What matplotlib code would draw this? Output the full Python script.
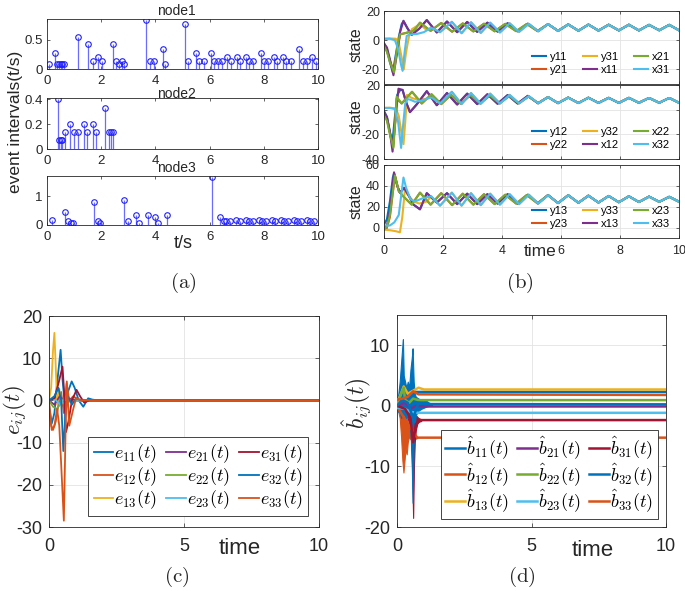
import matplotlib
matplotlib.use('Agg')
import matplotlib.pyplot as plt
import numpy as np

plt.rcParams['font.family'] = ['Liberation Sans', 'DejaVu Sans']
plt.rcParams['mathtext.fontset'] = 'cm'
plt.rcParams['axes.unicode_minus'] = False

# ---------------- data: panel (a) event intervals ----------------
node1_t = [0.06, 0.31, 0.37, 0.43, 0.50, 0.56, 0.62, 1.14, 1.53, 1.68, 1.88, 2.03, 2.43, 2.56, 2.64, 2.76, 2.85,
           3.64, 3.80, 3.94, 4.27, 4.34, 5.10, 5.22, 5.50, 5.61, 5.78, 6.04, 6.16, 6.31, 6.46, 6.66, 6.78, 7.00,
           7.12, 7.34, 7.46, 7.61, 7.88, 8.01, 8.14, 8.36, 8.49, 8.70, 8.82, 8.99, 9.31, 9.44, 9.59, 9.79, 9.91]
node1_v = [0.08, 0.28, 0.08, 0.08, 0.08, 0.08, 0.08, 0.55, 0.42, 0.14, 0.21, 0.14, 0.42, 0.14, 0.08, 0.14, 0.08,
           0.83, 0.14, 0.14, 0.34, 0.08, 0.76, 0.14, 0.28, 0.14, 0.14, 0.28, 0.14, 0.14, 0.14, 0.21, 0.14, 0.21,
           0.14, 0.21, 0.14, 0.14, 0.28, 0.14, 0.14, 0.21, 0.14, 0.21, 0.14, 0.14, 0.34, 0.14, 0.14, 0.21, 0.14]
node2_t = [0.40, 0.45, 0.50, 0.54, 0.67, 0.85, 1.01, 1.15, 1.35, 1.49, 1.68, 1.82, 2.15, 2.28, 2.36, 2.45]
node2_v = [0.40, 0.07, 0.07, 0.07, 0.14, 0.205, 0.14, 0.14, 0.205, 0.14, 0.205, 0.14, 0.33, 0.14, 0.14, 0.14]
node3_t = [0.19, 0.66, 0.78, 0.87, 0.95, 1.75, 1.88, 1.96, 2.85, 2.98, 3.30, 3.39, 3.73, 4.00, 4.08, 4.42,
           6.10, 6.37, 6.52, 6.62, 6.74, 6.99, 7.11, 7.33, 7.46, 7.59, 7.81, 7.95, 8.07, 8.29, 8.42, 8.64,
           8.76, 8.89, 9.11, 9.23, 9.37, 9.58, 9.70, 9.85]
node3_v = [0.19, 0.45, 0.14, 0.08, 0.08, 0.81, 0.14, 0.08, 0.86, 0.14, 0.34, 0.08, 0.34, 0.28, 0.08, 0.34,
           1.68, 0.27, 0.14, 0.14, 0.14, 0.19, 0.14, 0.19, 0.14, 0.14, 0.19, 0.14, 0.14, 0.19, 0.14, 0.19,
           0.14, 0.14, 0.19, 0.14, 0.14, 0.19, 0.14, 0.14]
node_names = ['node1', 'node2', 'node3']

# ---------------- data: panel (b) states (extremum points) ----------------
tail_t = [5.90, 6.245, 6.59, 6.93, 7.27, 7.615, 7.96, 8.30, 8.64, 8.985, 9.33, 9.67, 10.0]
tail1 = [6.4, 10.8, 6.5, 10.7, 6.6, 10.6, 6.7, 10.6, 6.7, 10.5, 6.8, 10.5, 6.8]
tail2 = [5.3, 9.8, 5.4, 9.7, 5.5, 9.6, 5.5, 9.6, 5.6, 9.5, 5.6, 9.5, 5.6]
tail3 = [23.5, 31.0, 23.8, 30.6, 24.0, 30.3, 24.3, 30.0, 24.5, 29.7, 24.7, 29.5, 24.8]

x11_t = [0, 0.10, 0.20, 0.32, 0.45, 0.55, 0.66, 0.80, 0.94, 1.20, 1.45, 1.79, 2.135, 2.48, 2.82, 3.16, 3.505, 3.85, 4.19, 4.53, 4.875, 5.22, 5.56]
x11_v = [-2.3, -5, -13, -24, -8, 6, 13.3, 8, 3.7, 8, 13.8, 5.3, 12.8, 5.5, 12.5, 5.7, 12.0, 5.9, 11.6, 6.1, 11.3, 6.2, 11.0]
x21_t = [0, 0.10, 0.20, 0.34, 0.45, 0.54, 0.75, 1.00, 1.22, 1.58, 1.94, 2.31, 2.67, 3.03, 3.39, 3.75, 4.11, 4.48, 4.84, 5.20, 5.56]
x21_v = [-4, -8, -15, -22, -5, 4, 5, 6.4, 12, 6.4, 11.8, 5.8, 11.5, 6.0, 11.3, 6.1, 11.2, 6.2, 11.1, 6.3, 11.0]
x31_t = [0, 0.20, 0.37, 0.48, 0.58, 0.63, 0.70, 0.77, 0.90, 1.10, 1.35, 1.60, 1.90, 2.30, 2.63, 2.95, 3.28, 3.60, 3.93, 4.26, 4.58, 4.91, 5.23, 5.56]
x31_v = [1, 1, 0, -6, -17, -21, -8, 3, 4, 4.2, 5.5, 8.5, 5.5, 12.6, 4.8, 12.3, 5.0, 12.0, 5.3, 11.6, 5.7, 11.2, 6.1, 11.0]
y11_t = [0, 0.10, 0.20, 0.30, 0.40, 0.50, 0.60, 0.66]
y11_v = [-2, -6, -15, -22, -10, 2, 11, 13]
y21_t = [0, 0.10, 0.20, 0.33, 0.45, 0.55]
y21_v = [-3.5, -7.5, -14, -21, -6, 4]
y31_t = [0, 0.20, 0.40, 0.50, 0.60, 0.67, 0.75, 0.85, 0.95, 1.10, 1.20, 1.45, 1.60]
y31_v = [1, 1.2, 1, -2, -12, -20, -8, 3, 7.6, 9.5, 11, 7, 8.5]

x12_t = [0, 0.10, 0.20, 0.29, 0.38, 0.49, 0.63, 0.75, 0.88, 1.10, 1.45, 1.79, 2.135, 2.48, 2.82, 3.16, 3.505, 3.85, 4.19, 4.53, 4.875, 5.22, 5.56]
x12_v = [-2, -6, -18, -34, -10, 17, 16, 6, -2, 4, 15, 3.6, 13.5, 4.2, 13, 4.5, 12.5, 4.8, 11.8, 5, 11.2, 5.2, 10.2]
x22_t = [0, 0.10, 0.20, 0.32, 0.38, 0.43, 0.60, 0.95, 1.28, 1.61, 1.94, 2.27, 2.60, 2.93, 3.26, 3.59, 3.92, 4.24, 4.57, 4.90, 5.23, 5.56]
x22_v = [-4.7, -9, -20, -31, -10, 10.5, 5, 14.5, 5, 12.5, 4.5, 12, 4.8, 11.8, 5.0, 11.5, 5.1, 11, 5.2, 10.6, 5.3, 10.2]
x32_t = [0, 0.20, 0.37, 0.48, 0.58, 0.65, 0.72, 0.80, 0.90, 1.05, 1.30, 1.60, 1.90, 2.30, 2.63, 2.95, 3.28, 3.60, 3.93, 4.26, 4.58, 4.91, 5.23, 5.56]
x32_v = [1.4, 1.4, 0.5, -10, -31, -12, 5, 8.6, 8, 6.4, 7.5, 10, 5, 14.5, 4.5, 13.5, 4.8, 13, 5, 12, 5.1, 11, 5.2, 10.2]
y12_t = [0, 0.10, 0.20, 0.28, 0.36, 0.45, 0.55]
y12_v = [-1, -6, -18, -28, -8, 12, 16]
y22_t = [0, 0.10, 0.20, 0.31, 0.38, 0.43]
y22_v = [-4, -8, -19, -30, -9, 9]
y32_t = [0, 0.20, 0.40, 0.50, 0.60, 0.66, 0.72, 0.78, 0.90, 1.00, 1.20, 1.45, 1.60]
y32_v = [1.4, 1.6, 1, -5, -20, -28, -10, 12, 10, 9, 8, 9, 10]

x13_t = [0, 0.10, 0.20, 0.34, 0.45, 0.54, 0.68, 0.85, 1.00, 1.22, 1.45, 1.79, 2.135, 2.48, 2.82, 3.16, 3.505, 3.85, 4.19, 4.53, 4.875, 5.22, 5.56]
x13_v = [0, 2, 15, 53, 40, 33.5, 38, 30, 22, 17.5, 33, 24, 33, 22.5, 32.5, 22.5, 32, 23, 32, 23, 31.5, 23.2, 31.2]
x23_t = [0, 0.10, 0.20, 0.37, 0.50, 0.65, 0.94, 1.22, 1.58, 1.94, 2.31, 2.67, 3.03, 3.39, 3.75, 4.11, 4.48, 4.84, 5.20, 5.56]
x23_v = [-2, 1, 12, 50, 35, 30, 22, 33.5, 22, 33, 21.5, 32.5, 22, 32, 22.5, 31.5, 23, 31.2, 23.3, 31]
x33_t = [0, 0.20, 0.35, 0.50, 0.58, 0.66, 0.75, 0.90, 1.05, 1.30, 1.60, 1.90, 2.30, 2.63, 2.95, 3.28, 3.60, 3.93, 4.26, 4.58, 4.91, 5.23, 5.56]
x33_v = [2, 2, 5, 12, 30, 48, 38, 27, 25, 28, 30, 21, 33.5, 21, 33, 21.5, 32.5, 22, 32, 22.5, 31.5, 23, 31]
y13_t = [0, 0.10, 0.20, 0.30, 0.34]
y13_v = [3, 8, 25, 48, 52]
y23_t = [0, 0.10, 0.20, 0.36]
y23_v = [-2, 0, 10, 48]
y33_t = [0, 0.20, 0.40, 0.54, 0.62, 0.71, 0.80, 1.00, 1.20, 1.45, 1.60]
y33_v = [-2, -2.5, -3.5, -4.5, 10, 36.8, 32, 25, 23, 25, 30]

# ---------------- data: panel (c) errors ----------------
e11_t = [0, 0.10, 0.20, 0.30, 0.43, 0.50, 0.60, 0.70, 0.84, 0.95, 1.10, 1.27, 1.45, 1.60, 1.80, 10]
e11_v = [-1, -5.5, -3, 4, 12, 5, -2, 2, 4.5, 3, 0, -1.5, 0.5, 0.2, 0, 0]
e12_t = [0, 0.08, 0.15, 0.25, 0.35, 0.45, 0.55, 0.65, 0.75, 0.90, 1.10, 10]
e12_v = [-2, -6, -7, -5, -1, 2, -3, 4, 0, 1, 0, 0]
e13_t = [0, 0.08, 0.15, 0.20, 0.25, 0.30, 0.38, 0.45, 0.55, 0.70, 1.00, 1.30, 10]
e13_v = [0, 3, 12, 16, 8, -1, 2.7, -1, 0.5, -0.5, 0.3, 0, 0]
e21_t = [0, 0.20, 0.40, 0.60, 0.80, 1.00, 10]
e21_v = [0, -1, 1, -0.5, 0.3, 0, 0]
e22_t = [0, 0.15, 0.30, 0.45, 0.60, 0.80, 1.00, 10]
e22_v = [0, -1.5, -2, -0.5, 1, -0.3, 0, 0]
e23_t = [0, 0.20, 0.40, 0.60, 0.90, 1.20, 2.50, 10]
e23_v = [0, 0.5, -1, 0.5, -0.3, 0, 0, 0]
e31_t = [0, 0.20, 0.35, 0.50, 0.56, 0.63, 0.72, 0.85, 1.02, 1.15, 1.30, 1.50, 10]
e31_v = [0, 0.5, 4, 8, 2, -7.5, -5, 0, 2.5, 1, -0.5, 0, 0]
e32_t = [0, 0.20, 0.35, 0.45, 0.53, 0.60, 0.70, 0.85, 1.00, 1.20, 10]
e32_v = [0, 1, 3, 0, -12, -4, 1, -1, 0.5, 0, 0]
e33_t = [0, 0.10, 0.20, 0.30, 0.38, 0.45, 0.55, 0.62, 0.66, 0.75, 0.90, 1.00, 1.20, 10]
e33_v = [0, -7, -6, -2, -6, -15, -28.5, -5, 4.5, -6, -2, 0.5, 0, 0]

# ---------------- data: panel (d) estimates ----------------
b11_t = [0, 0.10, 0.20, 0.30, 0.50, 0.70, 10]
b11_v = [0, 1.5, 3, 2.5, 2.5, 2.3, 2.3]
b12_t = [0, 0.05, 0.75, 10]
b12_v = [0, -0.5, -5.25, -5.25]
b13_t = [0, 0.15, 0.25, 0.40, 0.60, 0.80, 1.00, 10]
b13_v = [0.5, 2, 3.2, 2, 2.5, 3, 2.7, 2.7]
b21_t = [0, 0.30, 0.50, 0.70, 1.00, 10]
b21_v = [0, 0.5, -0.5, 0, -0.1, -0.1]
b22_t = [0, 0.15, 0.25, 0.30, 0.45, 0.60, 0.80, 10]
b22_v = [0, 2, 3, 1, 0.5, 1.2, 0.95, 0.95]
b23_t = [0, 0.30, 0.50, 0.80, 10]
b23_v = [-0.3, -0.5, -1, -1.15, -1.15]
b31_t = [0, 0.30, 0.50, 0.60, 0.70, 0.90, 10]
b31_v = [0, -0.5, -2, -6, -3, -2.35, -2.35]
b32_t = [0, 0.20, 0.40, 0.60, 0.80, 1.00, 10]
b32_v = [0, 1, 0.5, -2, 0.5, 0.3, 0.25]
b33_t = [0, 0.20, 0.40, 0.60, 0.80, 10]
b33_v = [1, 1.2, 1.5, 2.4, 1.9, 1.8]
# chattering envelopes
blue_env_t = [0.0, 0.05, 0.10, 0.15, 0.20, 0.22, 0.25, 0.30, 0.35, 0.40, 0.45, 0.50, 0.55, 0.58, 0.62, 0.66, 0.70, 0.80, 0.90, 1.00, 1.10, 1.20, 1.30]
blue_env_hi = [0.5, 2, 4, 7, 10, 11, 5, 4, 3, 4, 3, 6, 8, 9.5, 4, 2, 1.5, 1.2, 1.0, 0.8, 0.8, 0.5, 0.4]
blue_env_lo = [-0.5, -1, -1, -2, -1, -2, -1, -2, -2, -1, -1, -4, -10, -16, -6, -3, -1.5, -0.8, -0.5, -0.3, -0.1, 0.0, 0.1]
red_env_t = [0.30, 0.40, 0.50, 0.55, 0.60, 0.63, 0.66, 0.70, 0.75, 0.80, 0.90]
red_env_hi = [-0.5, -0.5, -1, -1, -1, -1.5, -1.5, -1.5, -1.8, -2, -2.2]
red_env_lo = [-1, -2, -4, -8, -18.5, -10, -6, -4, -3, -2.6, -2.5]
org_env_t = [0.05, 0.10, 0.15, 0.20, 0.24, 0.28, 0.32, 0.36, 0.40, 0.45, 0.50, 0.60, 0.70, 0.75]
org_env_hi = [0, 0, -1, -1, -2, -2, -1, -2, -3, -3, -4, -4.5, -5, -5.2]
org_env_lo = [-1, -2, -5, -9, -11, -9, -7, -8, -6, -5, -5.5, -5.6, -5.4, -5.3]

C_BLUE, C_ORANGE, C_YELLOW = '#0072BD', '#D95319', '#EDB120'
C_PURPLE, C_GREEN, C_CYAN, C_RED = '#7E2F8E', '#77AC30', '#4DBEEE', '#A2142F'
AXC = '#262626'

W, H = 685, 591
fig = plt.figure(figsize=(W / 100, H / 100), dpi=100)


def add_ax(l, t, r, b):
    return fig.add_axes([l / W, 1 - b / H, (r - l) / W, (b - t) / H])


def ftext(x, y, s, **kw):
    fig.text(x / W, 1 - y / H, s, ha='center', va='center', color=AXC, **kw)


def style(ax, fs, xpad=3, ypad=3, length=3):
    for s in ax.spines.values():
        s.set_color(AXC)
        s.set_linewidth(0.6)
    ax.tick_params(direction='in', top=True, right=True, length=length, width=0.5,
                   colors=AXC, labelsize=fs)
    ax.tick_params(axis='x', pad=xpad)
    ax.tick_params(axis='y', pad=ypad)


def join(t1, v1, t2, v2):
    t = list(t1) + [a for a in t2 if a > t1[-1]]
    v = list(v1) + [b for a, b in zip(t2, v2) if a > t1[-1]]
    return t, v


# ---------------- panel (a) ----------------
a_boxes = [(47, 19, 318, 69), (47, 98, 318, 149), (47, 176, 318, 225)]
a_data = [(node1_t, node1_v), (node2_t, node2_v), (node3_t, node3_v)]
a_ylim = [0.85, 0.41, 1.7]
a_yt = [([0, 0.5], ['0', '0.5']), ([0, 0.2, 0.4], ['0', '0.2', '0.4']), ([0, 1], ['0', '1'])]
a_title_y = [11, 94, 168]
for box, (tt, vv), ym, (yt, yl), ty, nm in zip(a_boxes, a_data, a_ylim, a_yt, a_title_y, node_names):
    ax = add_ax(*box)
    ml, sl, bl = ax.stem(tt, vv, basefmt=' ')
    plt.setp(sl, color='#6b6bff', linewidth=0.9)
    plt.setp(ml, marker='o', markerfacecolor='none', markeredgecolor='#2020ff',
             markersize=4, markeredgewidth=0.8)
    ax.set_xlim(0, 10)
    ax.set_ylim(0, ym)
    ax.set_xticks([0, 2, 4, 6, 8, 10])
    ax.set_yticks(yt)
    ax.set_yticklabels(yl)
    style(ax, 9.5, xpad=4, ypad=3, length=2.5)
    ftext(176, ty, nm, fontsize=10)
ftext(16, 122, 'event intervals(t/s)', fontsize=12.5, rotation=90)
ftext(183, 243, 't/s', fontsize=13)
ftext(183, 283, r'$\mathrm{(a)}$', fontsize=15)

# ---------------- panel (b) ----------------
b_boxes = [(384, 11, 679, 84), (384, 85, 679, 159), (384, 165, 679, 238)]
b_ylim = [(-30, 20), (-40, 20), (-10, 60)]
b_yt = [[-20, 0, 20], [-40, -20, 0, 20], [0, 20, 40, 60]]
b_sets = [
    [('y11', y11_t, y11_v, x11_t, x11_v), ('y21', y21_t, y21_v, x21_t, x21_v), ('y31', y31_t, y31_v, x31_t, x31_v),
     ('x11', x11_t, x11_v, None, None), ('x21', x21_t, x21_v, None, None), ('x31', x31_t, x31_v, None, None)],
    [('y12', y12_t, y12_v, x12_t, x12_v), ('y22', y22_t, y22_v, x22_t, x22_v), ('y32', y32_t, y32_v, x32_t, x32_v),
     ('x12', x12_t, x12_v, None, None), ('x22', x22_t, x22_v, None, None), ('x32', x32_t, x32_v, None, None)],
    [('y13', y13_t, y13_v, x13_t, x13_v), ('y23', y23_t, y23_v, x23_t, x23_v), ('y33', y33_t, y33_v, x33_t, x33_v),
     ('x13', x13_t, x13_v, None, None), ('x23', x23_t, x23_v, None, None), ('x33', x33_t, x33_v, None, None)],
]
b_tails = [tail1, tail2, tail3]
b_colors = [C_BLUE, C_ORANGE, C_YELLOW, C_PURPLE, C_GREEN, C_CYAN]
b_label_y = [45, 117, 202]
for i, (box, yl, yt, sets, tail, ly) in enumerate(zip(b_boxes, b_ylim, b_yt, b_sets, b_tails, b_label_y)):
    ax = add_ax(*box)
    ax.grid(True, color='#e3e3e3', linewidth=0.6)
    ax.set_axisbelow(True)
    for (name, t1, v1, t2, v2), col in zip(sets, b_colors):
        if t2 is not None:
            tt, vv = join(t1, v1, t2, v2)
        else:
            tt, vv = list(t1), list(v1)
        tt, vv = join(tt, vv, tail_t, tail)
        ax.plot(tt, vv, color=col, linewidth=1.5, label=name, solid_joinstyle='round')
    ax.set_xlim(0, 10)
    ax.set_ylim(*yl)
    ax.set_xticks([0, 2, 4, 6, 8, 10])
    ax.set_yticks(yt)
    if i < 2:
        ax.set_xticklabels([])
    style(ax, 9, xpad=5, ypad=3, length=2.5)
    ax.legend(loc='lower right', ncol=3, frameon=False, fontsize=8, handlelength=1.3,
              handletextpad=0.35, columnspacing=1.3, labelspacing=0.3, borderaxespad=0.4)
    ftext(356, ly, 'state', fontsize=11.5, rotation=90)
ftext(540, 251, 'time', fontsize=12.5)
ftext(520, 283, r'$\mathrm{(b)}$', fontsize=15)

# ---------------- panel (c) ----------------
axc = add_ax(49, 316, 319, 527)
axc.grid(True, color='#e3e3e3', linewidth=0.6)
axc.set_axisbelow(True)
c_series = [(e11_t, e11_v, C_BLUE, r'$e_{11}(t)$'), (e12_t, e12_v, C_ORANGE, r'$e_{12}(t)$'),
            (e13_t, e13_v, C_YELLOW, r'$e_{13}(t)$'), (e21_t, e21_v, C_PURPLE, r'$e_{21}(t)$'),
            (e22_t, e22_v, C_GREEN, r'$e_{22}(t)$'), (e23_t, e23_v, C_CYAN, r'$e_{23}(t)$'),
            (e31_t, e31_v, C_RED, r'$e_{31}(t)$'), (e32_t, e32_v, C_BLUE, r'$e_{32}(t)$'),
            (e33_t, e33_v, C_ORANGE, r'$e_{33}(t)$')]
for tt, vv, col, lab in c_series:
    axc.plot(tt, vv, color=col, linewidth=1.3, label=lab)
axc.set_xlim(0, 10)
axc.set_ylim(-30, 20)
axc.set_xticks([0, 5, 10])
axc.set_yticks([-30, -20, -10, 0, 10, 20])
style(axc, 13, xpad=8, ypad=5, length=3)
lg = axc.legend(loc='lower right', ncol=3, fontsize=13, handlelength=1.1, handletextpad=0.05,
                columnspacing=0.5, labelspacing=0.0, borderaxespad=0.6, borderpad=0.3,
                fancybox=False, framealpha=1)
lg.get_frame().set_edgecolor(AXC)
lg.get_frame().set_linewidth(0.6)
ftext(16, 410, r'$e_{ij}(t)$', fontsize=16.5, rotation=90)
ftext(240, 548, 'time', fontsize=16)
ftext(177, 577, r'$\mathrm{(c)}$', fontsize=15)

# ---------------- panel (d) ----------------
axd = add_ax(397, 315, 666, 527)
axd.grid(True, color='#e3e3e3', linewidth=0.6)
axd.set_axisbelow(True)
d_series = [(b11_t, b11_v, C_BLUE, r'$\hat{b}_{11}(t)$'), (b12_t, b12_v, C_ORANGE, r'$\hat{b}_{12}(t)$'),
            (b13_t, b13_v, C_YELLOW, r'$\hat{b}_{13}(t)$'), (b21_t, b21_v, C_PURPLE, r'$\hat{b}_{21}(t)$'),
            (b22_t, b22_v, C_GREEN, r'$\hat{b}_{22}(t)$'), (b23_t, b23_v, C_CYAN, r'$\hat{b}_{23}(t)$'),
            (b31_t, b31_v, C_RED, r'$\hat{b}_{31}(t)$'), (b32_t, b32_v, C_BLUE, r'$\hat{b}_{32}(t)$'),
            (b33_t, b33_v, C_ORANGE, r'$\hat{b}_{33}(t)$')]
axd.fill_between(org_env_t, org_env_lo, org_env_hi, color=C_ORANGE, linewidth=0.8, zorder=2)
for k, (tt, vv, col, lab) in enumerate(d_series):
    if k == 7:
        axd.fill_between(red_env_t, red_env_lo, red_env_hi, color=C_RED, linewidth=0.8, zorder=2)
        axd.fill_between(blue_env_t, blue_env_lo, blue_env_hi, color=C_BLUE, linewidth=0.8, zorder=2)
    axd.plot(tt, vv, color=col, linewidth=1.8, label=lab, zorder=3)
axd.set_xlim(0, 10)
axd.set_ylim(-20, 15)
axd.set_xticks([0, 5, 10])
axd.set_yticks([-20, -10, 0, 10])
style(axd, 13, xpad=8, ypad=5, length=3)
lg = axd.legend(loc='lower right', ncol=3, fontsize=13, handlelength=1.1, handletextpad=0.05,
                columnspacing=0.45, labelspacing=0.0, borderaxespad=0.45, borderpad=0.25,
                fancybox=False, framealpha=1)
lg.get_frame().set_edgecolor(AXC)
lg.get_frame().set_linewidth(0.6)
ftext(357, 403, r'$\hat{b}_{ij}(t)$', fontsize=17, rotation=90)
ftext(593, 550, 'time', fontsize=16)
ftext(522, 577, r'$\mathrm{(d)}$', fontsize=15)

fig.savefig('out.png', dpi=100)
